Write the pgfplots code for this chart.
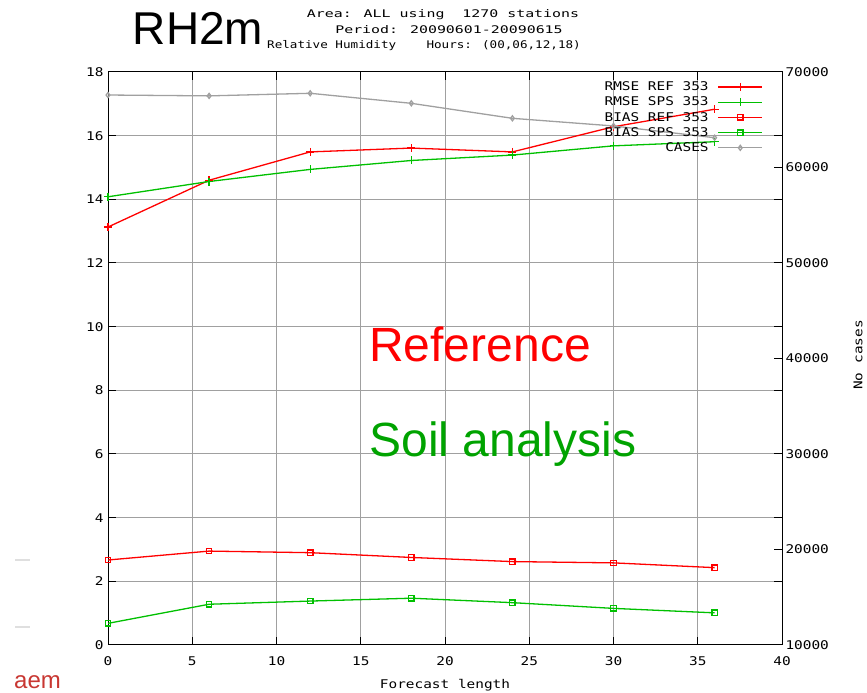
\documentclass[border=0pt]{standalone}
\usepackage{fontspec}
\setmainfont{Liberation Sans}
\newfontfamily\gpfont[FakeStretch=1.2]{DejaVu Sans Mono}
\newfontfamily\gpwfont[FakeStretch=1.42]{DejaVu Sans Mono}
\newcommand{\gp}{\gpfont\fontsize{12}{14}\selectfont}
\newcommand{\gps}{\gpfont\fontsize{10.5}{12}\selectfont}
\newcommand{\gpw}{\gpwfont\fontsize{10.5}{12}\selectfont}
\usepackage{pgfplots}
\pgfplotsset{compat=1.18}
\definecolor{gpred}{RGB}{255,0,0}
\definecolor{gpgreen}{RGB}{0,192,0}
\definecolor{gpgray}{RGB}{160,160,160}
\definecolor{aemred}{RGB}{200,55,50}

\begin{document}
\begin{tikzpicture}
\useasboundingbox (0,0) rectangle (867pt,693pt);

\begin{axis}[
    at={(108pt,48pt)}, anchor=south west,
    scale only axis, width=674pt, height=573pt,
    xmin=0, xmax=40, ymin=0, ymax=18,
    xtick={0,5,...,40}, ytick={0,2,...,18},
    tick align=inside, major tick length=8pt,
    ytick pos=both, yticklabel pos=left,
    xtick pos=both, xticklabel pos=bottom,
    grid=major, major grid style={gpgray, line width=1pt},
    axis line style={black, line width=1pt},
    tick style={black, line width=1pt},
    /pgf/number format/assume math mode=true,
    ticklabel style={font=\gp},
    yticklabel style={xshift=-1pt},
    xticklabel style={yshift=-8pt},
]
\addplot[gpred, line width=1.3pt, mark=+, mark size=4pt] coordinates {
    (0,13.13) (6,14.60) (12,15.49) (18,15.61) (24,15.49) (30,16.28) (36,16.83)};
\addplot[gpgreen, line width=1.3pt, mark=+, mark size=4pt] coordinates {
    (0,14.08) (6,14.56) (12,14.94) (18,15.22) (24,15.39) (30,15.68) (36,15.81)};
\addplot[gpred, line width=1.3pt, mark=square, mark size=2.7pt] coordinates {
    (0,2.67) (6,2.95) (12,2.90) (18,2.75) (24,2.62) (30,2.58) (36,2.43)};
\addplot[gpgreen, line width=1.3pt, mark=square, mark size=2.7pt] coordinates {
    (0,0.68) (6,1.28) (12,1.38) (18,1.47) (24,1.33) (30,1.15) (36,1.01)};
\end{axis}

\begin{axis}[
    at={(108pt,48pt)}, anchor=south west,
    scale only axis, width=674pt, height=573pt,
    xmin=0, xmax=40, ymin=10000, ymax=70000,
    axis x line=none, axis y line*=right,
    ytick={10000,20000,...,70000},
    scaled y ticks=false,
    tick align=inside, major tick length=8pt,
    axis line style={black, line width=1pt},
    tick style={black, line width=1pt},
    /pgf/number format/assume math mode=true,
    /pgf/number format/1000 sep={},
    ticklabel style={font=\gp},
    legend plot pos=right,
    legend cell align=right,
    legend style={at={(0.972,0.985)}, anchor=north east, draw=none, fill=none,
        font=\gp, inner sep=0pt, row sep=2.8pt,
        nodes={inner sep=1pt},
        /tikz/every odd column/.append style={column sep=8pt}},
    legend image code/.code={
        \draw[mark repeat=2, mark phase=2, #1] plot coordinates {(0pt,0pt) (22pt,0pt) (44pt,0pt)};},
]
\addlegendimage{gpred, line width=1.3pt, mark=+, mark size=4pt}
\addlegendentry{RMSE REF 353}
\addlegendimage{gpgreen, line width=1.3pt, mark=+, mark size=4pt}
\addlegendentry{RMSE SPS 353}
\addlegendimage{gpred, line width=1.3pt, mark=square, mark size=2.7pt}
\addlegendentry{BIAS REF 353}
\addlegendimage{gpgreen, line width=1.3pt, mark=square, mark size=2.7pt}
\addlegendentry{BIAS SPS 353}
\addplot[gpgray, line width=1.3pt, mark=diamond, mark size=2.5pt] coordinates {
    (0,67590) (6,67500) (12,67770) (18,66720) (24,65150) (30,64350) (36,63120)};
\addlegendentry{CASES}
\end{axis}

% titles and overlay text
\node[anchor=base] at (198pt,648pt) {\fontsize{46}{50}\selectfont RH2m};
\node at (443pt,678pt) {\gpw Area: ALL using~~1270 stations};
\node at (449pt,663pt) {\gpw Period: 20090601-20090615};
\node at (424pt,647pt) {\gps Relative Humidity~~~~Hours: (00,06,12,18)};
\node at (445pt,8pt) {\gp Forecast length};
\node[rotate=90] at (858pt,338pt) {\gp No cases};
\node[anchor=base, text=gpred] at (480pt,331pt) {\fontsize{48}{52}\selectfont Reference};
\node[anchor=base, text=gpgreen!85!black] at (503pt,236pt) {\fontsize{48}{52}\selectfont Soil analysis};
\node[anchor=base west, text=aemred, inner sep=0pt] at (14pt,5pt) {\fontsize{24}{26}\selectfont aem};
\draw[gray!25, line width=2pt] (15pt,133pt) -- (30pt,133pt);
\draw[gray!25, line width=2pt] (15pt,66pt) -- (30pt,66pt);
\end{tikzpicture}
\end{document}
